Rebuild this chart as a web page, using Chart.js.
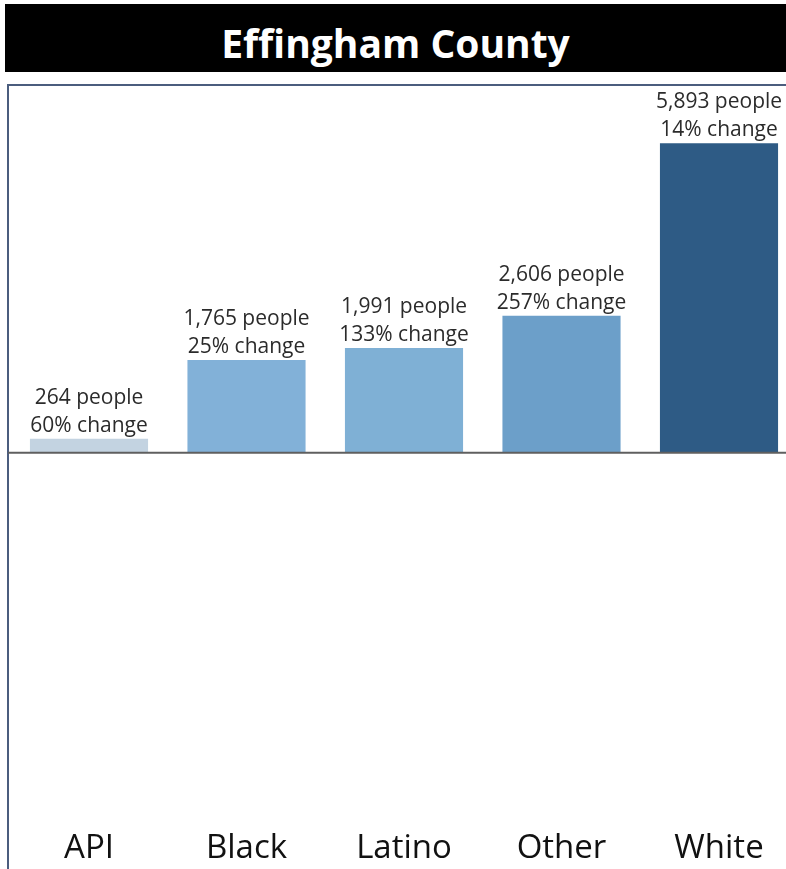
<!DOCTYPE html>
<html>
<head>
<meta charset="utf-8">
<script src="https://cdn.jsdelivr.net/npm/chart.js@4.4.1/dist/chart.umd.min.js"></script>
<style>
  html, body { margin: 0; padding: 0; background: #fff; overflow: hidden; }
  body { width: 786px; height: 869px; position: relative; }
  #title {
    position: absolute; left: 5px; top: 4px; width: 781px; height: 62px; padding-top: 6px;
    background: #000; color: #fff; text-align: center;
    font: bold 39px "Open Sans", sans-serif; line-height: 66px;
  }
  #chart-container { position: absolute; left: 0; top: 0; width: 800px; height: 873px; }
</style>
</head>
<body>
<div id="title">Effingham County</div>
<div id="chart-container"><canvas id="myChart"></canvas></div>
<script>
const categories = ['API', 'Black', 'Latino', 'Other', 'White'];
const people = [264, 1765, 1991, 2606, 5893];
const changePct = [60, 25, 133, 257, 14];
const barColors = ['#c3d3e1', '#82b1d8', '#7fb0d5', '#6c9fc9', '#2e5b85'];

// draws the frame lines, the zero line and the two-line labels over each bar
const decorations = {
    id: 'decorations',
    beforeDatasetsDraw(chart) {
        const ctx = chart.ctx;
        ctx.save();
        ctx.strokeStyle = '#4b5d7e';
        ctx.lineWidth = 2;
        ctx.beginPath();
        ctx.moveTo(8, 873);
        ctx.lineTo(8, 85);
        ctx.lineTo(800, 85);
        ctx.stroke();
        ctx.restore();
    },
    afterDatasetsDraw(chart) {
        const ctx = chart.ctx;
        const y0 = chart.scales.y.getPixelForValue(0);
        ctx.save();
        ctx.strokeStyle = '#5f5f5f';
        ctx.lineWidth = 2;
        ctx.beginPath();
        ctx.moveTo(8, y0);
        ctx.lineTo(800, y0);
        ctx.stroke();

        ctx.fillStyle = '#2b2b2b';
        ctx.font = '21px "Open Sans", sans-serif';
        ctx.textAlign = 'center';
        ctx.textBaseline = 'alphabetic';
        chart.getDatasetMeta(0).data.forEach(function(bar, i) {
            const line1 = people[i].toLocaleString('en-US') + ' people';
            const line2 = changePct[i] + '% change';
            ctx.fillText(line2, bar.x, bar.y - 7);
            ctx.fillText(line1, bar.x, bar.y - 35);
        });
        ctx.restore();
    }
};

new Chart(document.getElementById('myChart'), {
    type: 'bar',
    data: {
        labels: categories,
        datasets: [{
            data: people,
            backgroundColor: barColors,
            borderWidth: 0,
            barPercentage: 0.75,
            categoryPercentage: 1
        }]
    },
    options: {
        responsive: true,
        maintainAspectRatio: false,
        animation: false,
        layout: { padding: { left: 10.25, right: 2.25, top: 85, bottom: 0 } },
        plugins: { legend: { display: false }, tooltip: { enabled: false } },
        scales: {
            x: {
                grid: { display: false },
                border: { display: false },
                ticks: {
                    color: '#111',
                    font: { family: '"Open Sans", sans-serif', size: 33 },
                    padding: 5,
                    maxRotation: 0
                }
            },
            y: {
                display: false,
                min: -6905,
                max: 7000
            }
        }
    },
    plugins: [decorations]
});
</script>
</body>
</html>
